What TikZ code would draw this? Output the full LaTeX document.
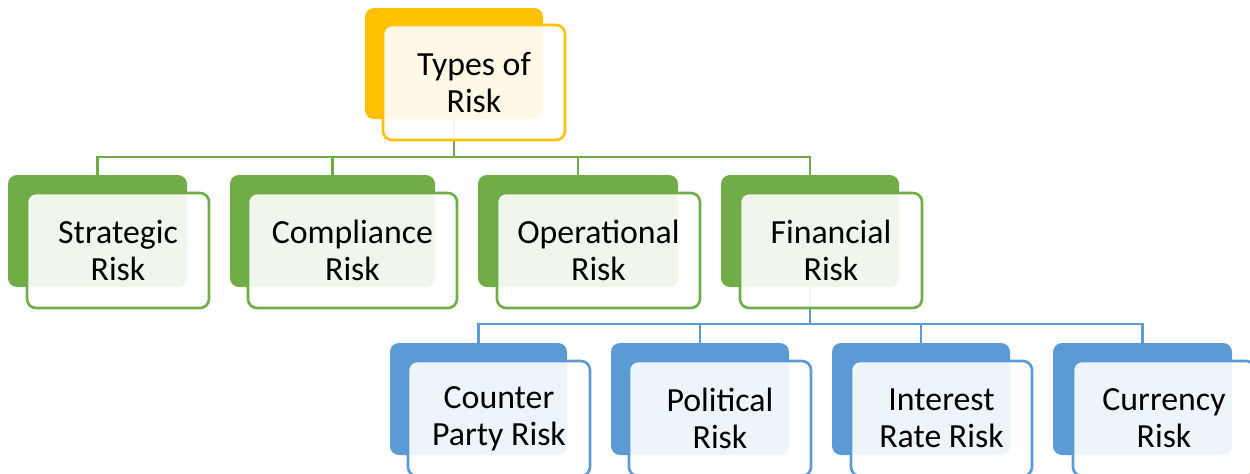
\documentclass[tikz,border=0pt]{standalone}
\usepackage{fontspec}
\setmainfont{Carlito}
\usepackage{tikz}
\usetikzlibrary{calc,positioning}
\definecolor{riskgold}{RGB}{255,192,0}
\definecolor{riskgreen}{RGB}{112,173,71}
\definecolor{riskblue}{RGB}{91,155,213}

\begin{document}
\begin{tikzpicture}[
  x=0.5pt,y=-0.5pt,
  font=\fontsize{16.9}{18.6}\selectfont,
  back/.style={rounded corners=4.5pt,minimum height=56pt,inner sep=0pt},
  front/.style={rounded corners=4.5pt,minimum height=57.5pt,inner sep=0pt,
    fill=white,fill opacity=0.9,text opacity=1,line width=1.3pt,align=center},
  greenlink/.style={draw=riskgreen,line width=1.3pt},
  bluelink/.style={draw=riskblue,line width=1.3pt}
]
  \useasboundingbox (0,0) rectangle (1250,473);

  % back plates
  \node[back,fill=riskgold,minimum width=89pt,minimum height=55.5pt] (typB) at (454,63.5) {};
  \node[back,fill=riskgreen,minimum width=89.5pt] (strB) at (97.5,231) {};
  \node[back,fill=riskgreen,minimum width=102.5pt] (comB) at (332.5,231) {};
  \node[back,fill=riskgreen,minimum width=100pt] (opeB) at (578,231) {};
  \node[back,fill=riskgreen,minimum width=89pt] (finB) at (810,231) {};
  \node[back,fill=riskblue,minimum width=88.5pt] (cpaB) at (478.5,399) {};
  \node[back,fill=riskblue,minimum width=89pt] (polB) at (700,399) {};
  \node[back,fill=riskblue,minimum width=89pt] (intB) at (921,399) {};
  \node[back,fill=riskblue,minimum width=89.5pt] (curB) at (1142.5,399) {};

  % connectors
  \coordinate (gbus) at (0,157);
  \coordinate (bbus) at (0,324);
  \foreach \n in {strB,comB,opeB,finB}
    \draw[greenlink] (typB.south) |- (\n.north |- gbus) -- (\n.north);
  \foreach \n in {cpaB,polB,intB,curB}
    \draw[bluelink] (finB.south) |- (\n.north |- bbus) -- (\n.north);

  % front cards
  \node[front,draw=riskgold,minimum width=91pt] (typ) at (474,82.5) {Types of\\Risk};
  \node[front,draw=riskgreen,minimum width=91pt] (str) at (118,250.5) {Strategic\\Risk};
  \node[front,draw=riskgreen,minimum width=104.5pt] (com) at (352.5,250.5) {Compliance\\Risk};
  \node[front,draw=riskgreen,minimum width=101.5pt] (ope) at (598.5,250.5) {Operational\\Risk};
  \node[front,draw=riskgreen,minimum width=91pt] (fin) at (831,250.5) {Financial\\Risk};
  \node[front,draw=riskblue,minimum width=91pt] (cpa) at (499,418.5) {Counter\\Party Risk};
  \node[front,draw=riskblue,minimum width=91pt] (pol) at (720,418.5) {Political\\Risk};
  \node[front,draw=riskblue,minimum width=90.5pt] (int) at (941.5,418.5) {Interest\\Rate Risk};
  \node[front,draw=riskblue,minimum width=91pt] (cur) at (1164,418.5) {Currency\\Risk};
\end{tikzpicture}
\end{document}
